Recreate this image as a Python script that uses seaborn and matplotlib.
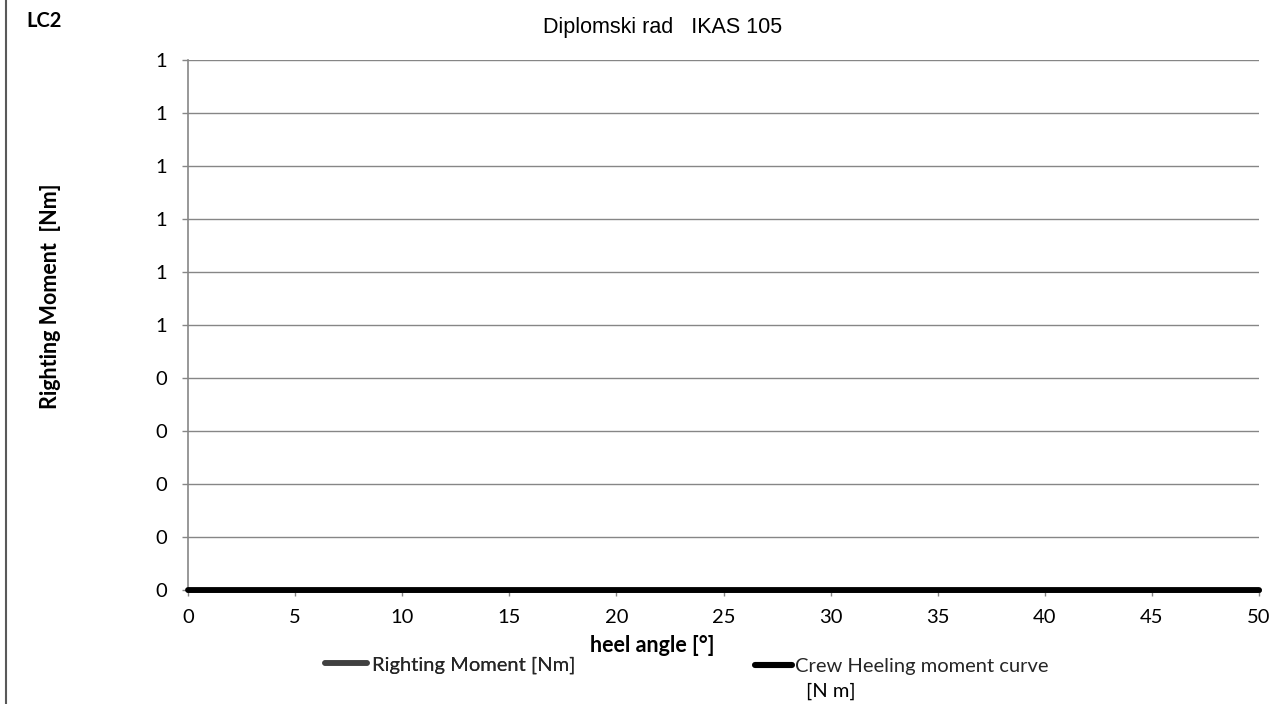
import numpy as np
import pandas as pd
import matplotlib
matplotlib.use("Agg")
import matplotlib.pyplot as plt
from matplotlib.lines import Line2D
import seaborn as sns

# chart data
heel_angle = [0, 5, 10, 15, 20, 25, 30, 35, 40, 45, 50]
righting_moment = [0, 0, 0, 0, 0, 0, 0, 0, 0, 0, 0]
crew_heeling = [0, 0, 0, 0, 0, 0, 0, 0, 0, 0, 0]
y_ticks = [0.0, 0.1, 0.2, 0.3, 0.4, 0.5, 0.6, 0.7, 0.8, 0.9, 1.0]
x_ticks = [0, 5, 10, 15, 20, 25, 30, 35, 40, 45, 50]

sns.set_theme(style="white")
plt.rcParams["font.family"] = ["Lato", "DejaVu Sans"]

grey = "#868686"
W, H = 1271, 704

fig = plt.figure(figsize=(12.71, 7.04), dpi=100)
ax = fig.add_axes([188 / W, 1 - 590 / H, (1259 - 188) / W, (590 - 60) / H])

df = pd.DataFrame({"heel": heel_angle, "rm": righting_moment, "crew": crew_heeling})
sns.lineplot(data=df, x="heel", y="rm", ax=ax, color="#404040", linewidth=3.6,
             legend=False, clip_on=False, zorder=3)
sns.lineplot(data=df, x="heel", y="crew", ax=ax, color="black", linewidth=4.2,
             legend=False, clip_on=False, zorder=4)

ax.set_xlim(0, 50)
ax.set_ylim(0, 1)
ax.set_xticks(x_ticks)
ax.set_yticks(y_ticks)
# Excel style rounding of the labels (0.5 -> 1)
ax.set_yticklabels([str(int(np.floor(v + 0.5 + 1e-9))) for v in y_ticks])
ax.set_xticklabels([str(v) for v in x_ticks])

ax.grid(axis="y", color=grey, linewidth=1)
ax.grid(axis="x", visible=False)
for s in ["top", "right"]:
    ax.spines[s].set_visible(False)
for s in ["left", "bottom"]:
    ax.spines[s].set_color(grey)
    ax.spines[s].set_linewidth(1.2)
ax.tick_params(axis="both", which="major", direction="out", length=4, width=1,
               color=grey, labelsize=14.5, labelcolor="black")
ax.tick_params(axis="y", pad=11, left=True)
ax.tick_params(axis="x", pad=9.5, bottom=True)

ax.set_xlabel("heel angle [°]", fontsize=15.5, fontweight="bold", color="black")
ax.xaxis.set_label_coords((652 - 188) / 1071, (H - 645 - 114) / 530)
ax.xaxis.label.set_va("center")
ax.set_ylabel("Righting Moment  [Nm]", fontsize=15.5, fontweight="bold", color="black")
ax.yaxis.set_label_coords((50 - 188) / 1071, (H - 296 - 114) / 530)
ax.yaxis.label.set_va("center")

fig.text(663 / W, 1 - 27 / H, "Diplomski rad   IKAS 105", ha="center", va="center",
         fontsize=15.5, family="Liberation Sans", color="black")
fig.text(26 / W, 1 - 21 / H, "LC2", ha="left", va="center", fontsize=14.5,
         fontweight="bold", color="black")

# legend entries at the bottom, on both sides of the axis title
h1 = Line2D([], [], color="#404040", linewidth=4, solid_capstyle="round")
h2 = Line2D([], [], color="black", linewidth=4.4, solid_capstyle="round")
leg1 = fig.legend([h1], ["Righting Moment [Nm]"], loc="center left",
                  bbox_to_anchor=(325 / W, 1 - 665 / H), frameon=False,
                  fontsize=14.5, handlelength=2.1, handletextpad=0.25,
                  borderpad=0, borderaxespad=0)
leg2 = fig.legend([h2], ["Crew Heeling moment curve"], loc="center left",
                  bbox_to_anchor=(755 / W, 1 - 666 / H), frameon=False,
                  fontsize=14.5, handlelength=1.85, handletextpad=0.15,
                  borderpad=0, borderaxespad=0)
fig.add_artist(leg1)
fig.text(806 / W, 1 - 691 / H, "[N m]", ha="left", va="center", fontsize=14.5,
         color="black")

# left border of the chart area
fig.add_artist(Line2D([6 / W, 6 / W], [0, 1], transform=fig.transFigure,
                      color="#595959", linewidth=1.5))

fig.savefig("out.png", dpi=100)
